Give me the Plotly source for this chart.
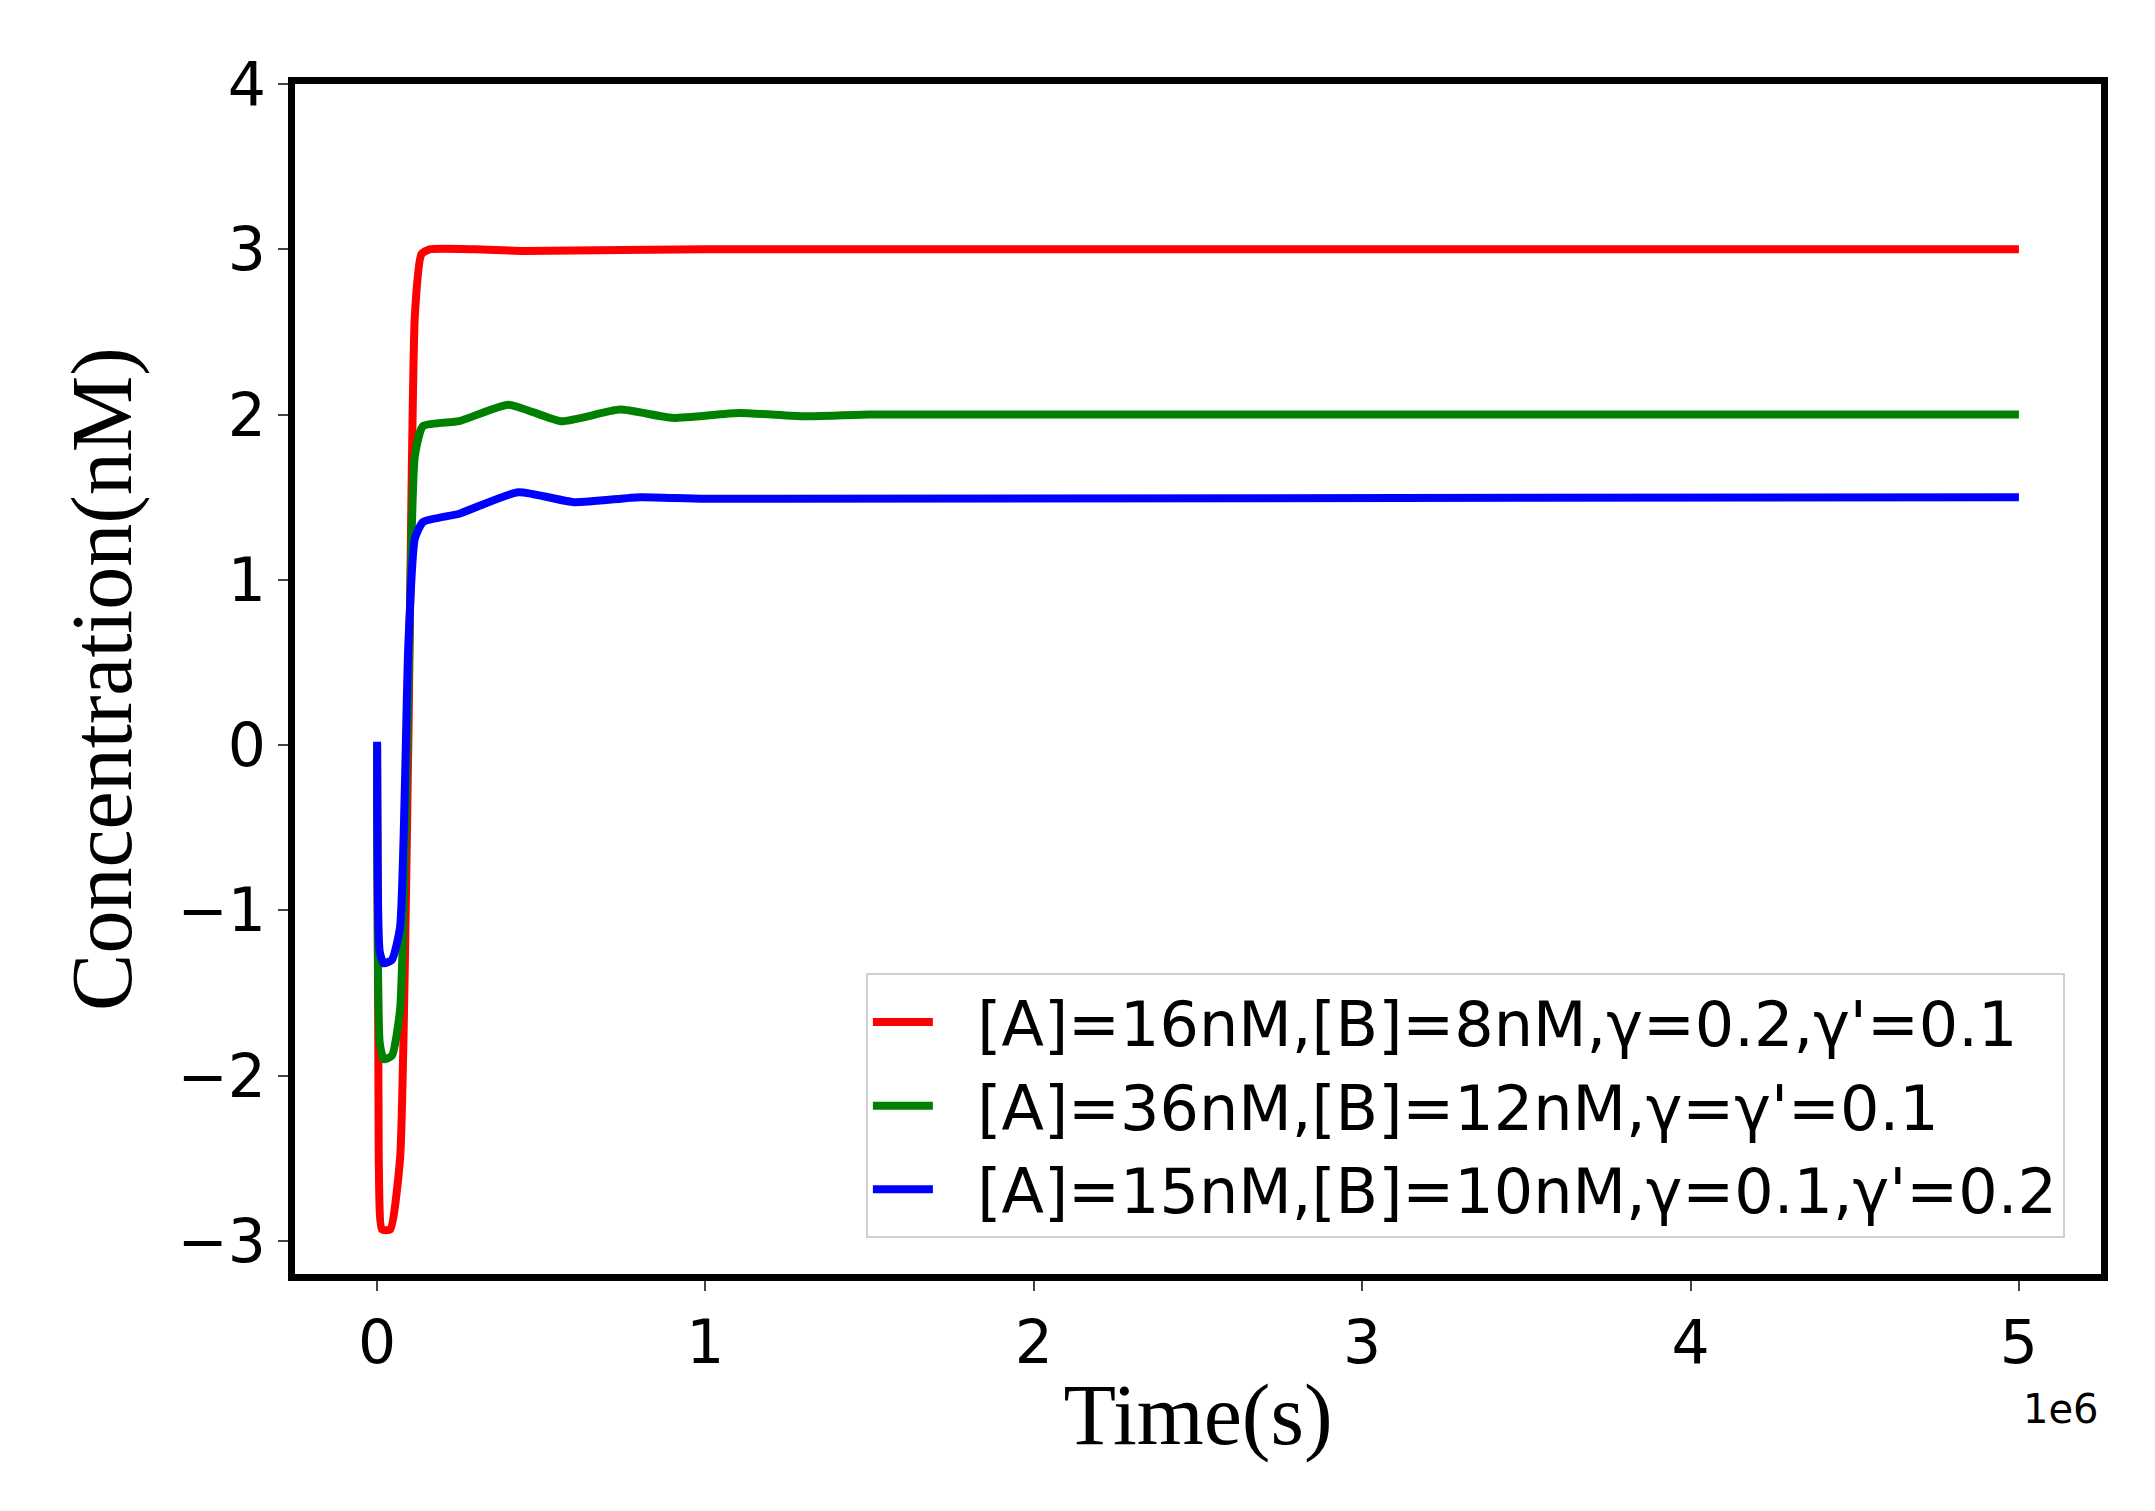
import plotly.graph_objects as go

# time points (s) and concentrations (nM)
t_red = [0, 5e3, 15e3, 40e3, 70e3, 95e3, 115e3, 135e3, 160e3, 300e3, 450e3, 1e6, 5e6]
c_red = [0, -2.5, -2.93, -2.93, -2.5, 0.0, 2.6, 2.97, 3.0, 3.0, 2.99, 3.0, 3.0]

t_green = [0, 8e3, 20e3, 45e3, 70e3, 95e3, 115e3, 140e3, 250e3, 400e3, 560e3, 740e3, 900e3,
           1.1e6, 1.3e6, 1.5e6, 5e6]
c_green = [0, -1.8, -1.9, -1.88, -1.6, 0.3, 1.75, 1.93, 1.96, 2.06, 1.96, 2.03, 1.98,
           2.01, 1.99, 2.0, 2.0]

t_blue = [0, 8e3, 20e3, 45e3, 70e3, 95e3, 115e3, 140e3, 250e3, 430e3, 600e3, 800e3, 1e6, 5e6]
c_blue = [0.02, -1.25, -1.32, -1.3, -1.1, 0.6, 1.25, 1.35, 1.4, 1.53, 1.47, 1.5, 1.49, 1.5]

names = ["[A]=16nM,[B]=8nM,γ=0.2,γ'=0.1",
         "[A]=36nM,[B]=12nM,γ=γ'=0.1",
         "[A]=15nM,[B]=10nM,γ=0.1,γ'=0.2"]
colors = ["red", "green", "blue"]

fig = go.Figure()
for t, c, n, col in [(t_red, c_red, names[0], colors[0]),
                     (t_green, c_green, names[1], colors[1]),
                     (t_blue, c_blue, names[2], colors[2])]:
    fig.add_trace(go.Scatter(x=t, y=c, name="  " + n, mode="lines",
                             line=dict(color=col, width=8, shape="spline", smoothing=0.5)))

xt = [0, 1e6, 2e6, 3e6, 4e6, 5e6]
yt = [-3, -2, -1, 0, 1, 2, 3, 4]
fig.update_xaxes(range=[-0.25e6, 5.25e6], tickvals=xt, ticktext=[str(i) for i in range(6)],
                 ticks="outside", ticklen=10, tickwidth=2, showgrid=False, zeroline=False,
                 showline=True, linewidth=7, linecolor="black", mirror=True,
                 tickfont=dict(size=60, family="DejaVu Sans", color="black"),
                 title=dict(text="Time(s)", font=dict(size=86, family="Liberation Serif", color="black"),
                            standoff=10))
fig.update_yaxes(range=[-3.2, 4.0], tickvals=yt, ticktext=[str(v).replace("-", "−") for v in yt],
                 ticks="outside", ticklen=10, tickwidth=2, showgrid=False, zeroline=False,
                 showline=True, linewidth=7, linecolor="black", mirror=True,
                 tickfont=dict(size=60, family="DejaVu Sans", color="black"),
                 title=dict(text="Concentration(nM)", font=dict(size=86, family="Liberation Serif", color="black"),
                            standoff=20))
fig.add_annotation(text="1e6", x=1, y=0, xref="paper", yref="paper", xanchor="right", yanchor="top",
                   yshift=-110, showarrow=False, font=dict(size=40, family="DejaVu Sans", color="black"))
fig.update_layout(width=2155, height=1511, plot_bgcolor="white", paper_bgcolor="white",
                  margin=dict(l=287, r=62, t=76, b=245),
                  legend=dict(x=0.98, y=0.03, xanchor="right", yanchor="bottom", itemwidth=60,
                              bgcolor="rgba(255,255,255,0.8)", bordercolor="#d0d0d0", borderwidth=2,
                              font=dict(size=62, family="DejaVu Sans", color="black")))
fig.write_html("out.html")
